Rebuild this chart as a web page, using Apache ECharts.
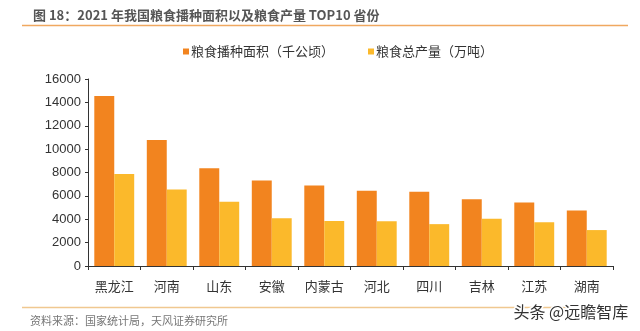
<!DOCTYPE html>
<html><head><meta charset="utf-8">
<script src="https://cdn.jsdelivr.net/npm/echarts@6/dist/echarts.min.js"></script>
<style>html,body{margin:0;padding:0;background:#fff}#c{width:640px;height:331px}</style>
</head><body><div id="c"></div>
<script>
const categories = ['黑龙江','河南','山东','安徽','内蒙古','河北','四川','吉林','江苏','湖南'];
const areaValues = [14551, 10772, 8355, 7310, 6884, 6429, 6358, 5721, 5428, 4758];
const outputValues = [7868, 6544, 5500, 4088, 3840, 3825, 3582, 4039, 3746, 3074];
const seriesNames = ['粮食播种面积（千公顷）', '粮食总产量（万吨）'];
const yTicks = [0, 2000, 4000, 6000, 8000, 10000, 12000, 14000, 16000];

const cjk = '"Noto Sans CJK SC","Noto Sans",sans-serif';
const chart = echarts.init(document.getElementById('c'));
chart.setOption({
  animation: false,
  backgroundColor: '#fff',
  title: {
    text: '图 18：2021 年我国粮食播种面积以及粮食产量 TOP10 省份',
    left: 28, top: 4,
    textStyle: {fontFamily: cjk, fontSize: 13, fontWeight: 'bold', color: '#555'}
  },
  graphic: [
    {type: 'line', shape: {x1: 22, y1: 25.5, x2: 628, y2: 25.5}, style: {stroke: '#F0A860', lineWidth: 1.5}},
    {type: 'line', shape: {x1: 22, y1: 307.5, x2: 628, y2: 307.5}, style: {stroke: '#F0C890', lineWidth: 1.5}},
    {type: 'text', left: 30, top: 315, style: {text: '资料来源：国家统计局，天风证券研究所', font: '11px "Noto Sans CJK SC",sans-serif', fill: '#777'}},
    {type: 'text', left: 512, top: 302, style: {text: '头条 @远瞻智库', font: '16px "Noto Sans CJK SC",sans-serif', fill: '#333', stroke: '#fff', lineWidth: 3}}
  ],
  legend: {
    top: 40, left: 178,
    itemWidth: 6, itemHeight: 6, itemGap: 34,
    icon: 'rect',
    textStyle: {fontFamily: cjk, fontSize: 13, color: '#333', padding: [0,0,0,-3]},
    data: seriesNames
  },
  grid: {left: 88, right: 27, top: 79, bottom: 65},
  xAxis: {
    type: 'category', data: categories,
    axisLine: {lineStyle: {color: '#333', width: 1}},
    axisTick: {show: true, length: 4, lineStyle: {color: '#333'}},
    axisLabel: {fontFamily: cjk, fontSize: 13, color: '#333', margin: 14}
  },
  yAxis: {
    type: 'value', min: yTicks[0], max: yTicks[yTicks.length-1], interval: 2000,
    axisLine: {show: true, lineStyle: {color: '#333', width: 1}},
    axisTick: {show: true, length: 3, lineStyle: {color: '#333'}},
    splitLine: {show: false},
    axisLabel: {fontFamily: 'Liberation Sans, Arial, sans-serif', fontSize: 13, color: '#333', margin: 7, formatter: v => String(v)}
  },
  series: [
    {name: seriesNames[0], type: 'bar', data: areaValues, itemStyle: {color: '#F2841F'}, barGap: '0%', barCategoryGap: '24%'},
    {name: seriesNames[1], type: 'bar', data: outputValues, itemStyle: {color: '#FBB92B'}}
  ]
});
</script></body></html>
